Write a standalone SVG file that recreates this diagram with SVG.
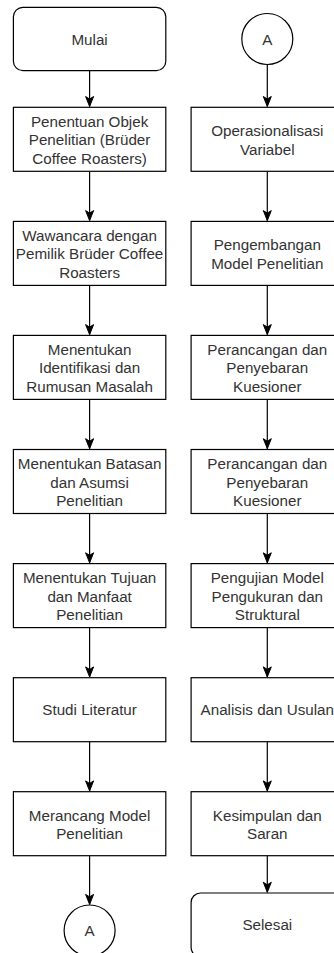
<svg xmlns="http://www.w3.org/2000/svg" width="334" height="953" viewBox="0 0 334 953">
<style>
.box{fill:#fff;stroke:#000;stroke-width:1.2}
.lbl{font-family:"Liberation Sans",Arial,sans-serif;font-size:15.2px;fill:#333;text-anchor:middle}
.edge{fill:none;stroke:#000;stroke-width:1.2}
.head{fill:#000;stroke:#000;stroke-width:1}
</style>
<defs>
<marker id="arr" markerUnits="userSpaceOnUse" markerWidth="13" markerHeight="11" viewBox="-11.5 -5.5 13 11" refX="0" refY="0" orient="auto">
<path d="M0,0 L-10,-4 L-7.5,0 L-10,4 Z" class="head"/>
</marker>
</defs>
<rect width="334" height="953" fill="#fff"/>
<g id="connectors">
<path class="edge" d="M89.6,70.7 L89.6,106.5" marker-end="url(#arr)"/>
<path class="edge" d="M89.6,171.3 L89.6,220.6" marker-end="url(#arr)"/>
<path class="edge" d="M89.6,285.4 L89.6,334.6" marker-end="url(#arr)"/>
<path class="edge" d="M89.6,399.4 L89.6,448.7" marker-end="url(#arr)"/>
<path class="edge" d="M89.6,513.5 L89.6,562.8" marker-end="url(#arr)"/>
<path class="edge" d="M89.6,627.6 L89.6,676.9" marker-end="url(#arr)"/>
<path class="edge" d="M89.6,741.7 L89.6,790.9" marker-end="url(#arr)"/>
<path class="edge" d="M89.6,855.7 L89.6,904.4" marker-end="url(#arr)"/>
<path class="edge" d="M267.3,64.5 L267.3,106.5" marker-end="url(#arr)"/>
<path class="edge" d="M267.3,171.3 L267.3,220.6" marker-end="url(#arr)"/>
<path class="edge" d="M267.3,285.4 L267.3,334.6" marker-end="url(#arr)"/>
<path class="edge" d="M267.3,399.4 L267.3,448.7" marker-end="url(#arr)"/>
<path class="edge" d="M267.3,513.5 L267.3,562.8" marker-end="url(#arr)"/>
<path class="edge" d="M267.3,627.6 L267.3,676.9" marker-end="url(#arr)"/>
<path class="edge" d="M267.3,741.7 L267.3,790.9" marker-end="url(#arr)"/>
<path class="edge" d="M267.3,855.7 L267.3,892.3" marker-end="url(#arr)"/>
</g>
<g id="mulai"><rect class="box" x="13.4" y="7.3" width="152.4" height="63.4" rx="9.5"/><text class="lbl" x="89.6" y="44.5">Mulai</text></g>
<g id="l1"><rect class="box" x="13.4" y="107.3" width="152.4" height="64"/><text class="lbl"><tspan x="89.6" y="126.9">Penentuan Objek</tspan><tspan x="89.6" y="145.3">Penelitian (Brüder</tspan><tspan x="89.6" y="163.7">Coffee Roasters)</tspan></text></g>
<g id="l2"><rect class="box" x="13.4" y="221.4" width="152.4" height="64"/><text class="lbl"><tspan x="89.6" y="241.0">Wawancara dengan</tspan><tspan x="89.6" y="259.4">Pemilik Brüder Coffee</tspan><tspan x="89.6" y="277.8">Roasters</tspan></text></g>
<g id="l3"><rect class="box" x="13.4" y="335.4" width="152.4" height="64"/><text class="lbl"><tspan x="89.6" y="355.0">Menentukan</tspan><tspan x="89.6" y="373.4">Identifikasi dan</tspan><tspan x="89.6" y="391.8">Rumusan Masalah</tspan></text></g>
<g id="l4"><rect class="box" x="13.4" y="449.5" width="152.4" height="64"/><text class="lbl"><tspan x="89.6" y="469.1">Menentukan Batasan</tspan><tspan x="89.6" y="487.5">dan Asumsi</tspan><tspan x="89.6" y="505.9">Penelitian</tspan></text></g>
<g id="l5"><rect class="box" x="13.4" y="563.6" width="152.4" height="64"/><text class="lbl"><tspan x="89.6" y="583.2">Menentukan Tujuan</tspan><tspan x="89.6" y="601.6">dan Manfaat</tspan><tspan x="89.6" y="620.0">Penelitian</tspan></text></g>
<g id="l6"><rect class="box" x="13.4" y="677.7" width="152.4" height="64"/><text class="lbl" x="89.6" y="715.2">Studi Literatur</text></g>
<g id="l7"><rect class="box" x="13.4" y="791.7" width="152.4" height="64"/><text class="lbl"><tspan x="89.6" y="820.5">Merancang Model</tspan><tspan x="89.6" y="838.9">Penelitian</tspan></text></g>
<g id="connA1"><circle class="box" cx="89.6" cy="930.5" r="25.5"/><text class="lbl" x="89.6" y="936">A</text></g>
<g id="connA2"><circle class="box" cx="267.3" cy="39" r="25.5"/><text class="lbl" x="267.3" y="44.5">A</text></g>
<g id="r1"><rect class="box" x="191.1" y="107.3" width="152.4" height="64"/><text class="lbl"><tspan x="267.3" y="136.1">Operasionalisasi</tspan><tspan x="267.3" y="154.5">Variabel</tspan></text></g>
<g id="r2"><rect class="box" x="191.1" y="221.4" width="152.4" height="64"/><text class="lbl"><tspan x="267.3" y="250.2">Pengembangan</tspan><tspan x="267.3" y="268.6">Model Penelitian</tspan></text></g>
<g id="r3"><rect class="box" x="191.1" y="335.4" width="152.4" height="64"/><text class="lbl"><tspan x="267.3" y="355.0">Perancangan dan</tspan><tspan x="267.3" y="373.4">Penyebaran</tspan><tspan x="267.3" y="391.8">Kuesioner</tspan></text></g>
<g id="r4"><rect class="box" x="191.1" y="449.5" width="152.4" height="64"/><text class="lbl"><tspan x="267.3" y="469.1">Perancangan dan</tspan><tspan x="267.3" y="487.5">Penyebaran</tspan><tspan x="267.3" y="505.9">Kuesioner</tspan></text></g>
<g id="r5"><rect class="box" x="191.1" y="563.6" width="152.4" height="64"/><text class="lbl"><tspan x="267.3" y="583.2">Pengujian Model</tspan><tspan x="267.3" y="601.6">Pengukuran dan</tspan><tspan x="267.3" y="620.0">Struktural</tspan></text></g>
<g id="r6"><rect class="box" x="191.1" y="677.7" width="152.4" height="64"/><text class="lbl" x="267.3" y="715.2">Analisis dan Usulan</text></g>
<g id="r7"><rect class="box" x="191.1" y="791.7" width="152.4" height="64"/><text class="lbl"><tspan x="267.3" y="820.5">Kesimpulan dan</tspan><tspan x="267.3" y="838.9">Saran</tspan></text></g>
<g id="selesai"><rect class="box" x="191.1" y="893" width="152.4" height="64" rx="9.5"/><text class="lbl" x="267.3" y="930">Selesai</text></g>
</svg>
